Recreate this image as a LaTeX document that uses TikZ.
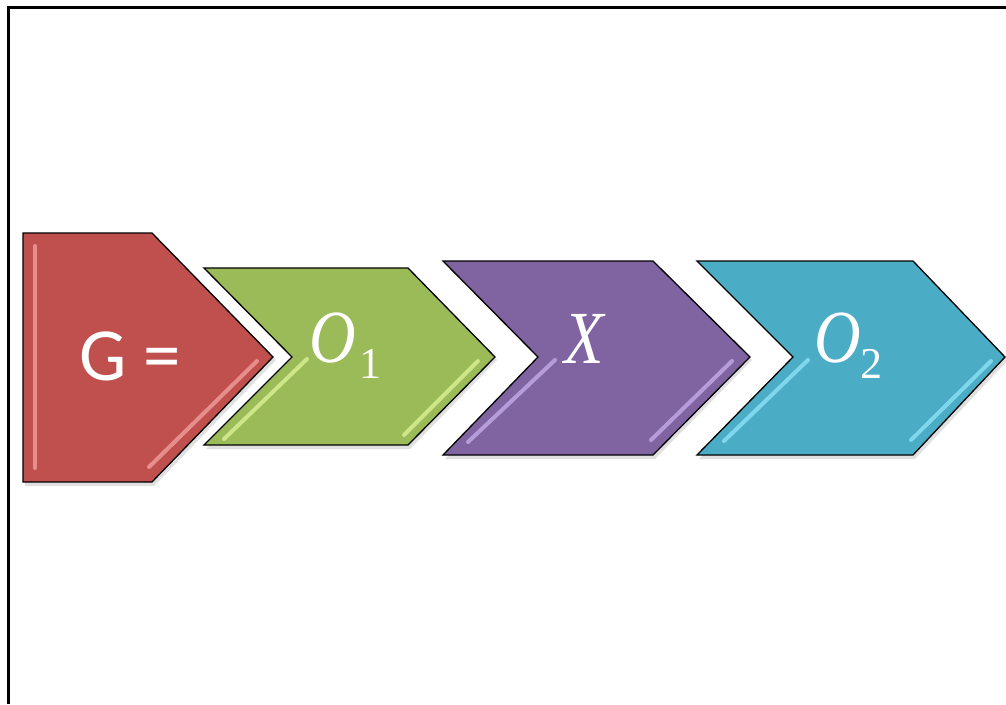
\documentclass[tikz,border=0pt]{standalone}
\usepackage{fontspec}
\newfontfamily\calib{Carlito}
\newfontfamily\tms{Liberation Serif}
\begin{document}
\begin{tikzpicture}[x=1pt,y=-1pt,
  shp/.style={draw=black,line width=1.3pt,line join=miter},
  shd/.style={fill=black,opacity=0.12},
  hl/.style={line width=4pt,line cap=round,opacity=0.75},
  txt/.style={inner sep=0pt,anchor=base west,text=white}]
\definecolor{cred}{HTML}{C0504D}
\definecolor{cgreen}{HTML}{9BBB59}
\definecolor{cpurple}{HTML}{8064A2}
\definecolor{ccyan}{HTML}{4BACC6}
\definecolor{hred}{HTML}{F4A3A0}
\definecolor{hgreen}{HTML}{DDF59A}
\definecolor{hpurple}{HTML}{C9B0EE}
\definecolor{hcyan}{HTML}{93E6F8}
\useasboundingbox (0,0) rectangle (1006,704);
\fill[white] (0,0) rectangle (1006,704);
% frame
\draw[line width=2.4pt] (8.5,704) -- (8.5,7.5) -- (1006,7.5);
% shadows
\fill[shd] (25,236) -- (154,236) -- (276,360) -- (154,486) -- (25,486) -- cycle;
\fill[shd] (206,271) -- (410,271) -- (497,360) -- (410,449) -- (206,449) -- (294,360) -- cycle;
\fill[shd] (445,264) -- (655,264) -- (752,360) -- (655,459) -- (445,459) -- (540,360) -- cycle;
\fill[shd] (699,264) -- (915,264) -- (1008,360) -- (915,459) -- (699,459) -- (795,360) -- cycle;
% shapes
\filldraw[shp,fill=cred] (23,233) -- (152,233) -- (273,357) -- (152,482) -- (23,482) -- cycle;
\filldraw[shp,fill=cgreen] (204,268) -- (408,268) -- (495,357) -- (408,445) -- (204,445) -- (292,357) -- cycle;
\filldraw[shp,fill=cpurple] (443,261) -- (653,261) -- (750,357) -- (653,455) -- (443,455) -- (538,357) -- cycle;
\filldraw[shp,fill=ccyan] (697,261) -- (913,261) -- (1005,357) -- (913,455) -- (697,455) -- (793,357) -- cycle;
% highlights
\draw[hl,hred] (35,246) -- (35,468);
\draw[hl,hred] (149,467) -- (257,361);
\draw[hl,hgreen] (224,439) -- (307,359);
\draw[hl,hgreen] (404,435) -- (478,361);
\draw[hl,hpurple] (468,442) -- (555,360);
\draw[hl,hpurple] (651,440) -- (732,361);
\draw[hl,hcyan] (724,441) -- (808,360);
\draw[hl,hcyan] (911,440) -- (991,361);
% texts
\node[txt] (g) at (79,380) {\calib\fontsize{75}{80}\selectfont G =};
\node[txt] (o1) at (309,362) {\scalebox{0.86}[1]{\tms\fontsize{75}{80}\selectfont\itshape O}};
\node[txt] (s1) at (359,378) {\tms\fontsize{44}{48}\selectfont 1};
\node[txt] (x) at (564,363) {\scalebox{0.86}[1]{\tms\fontsize{75}{80}\selectfont\itshape X}};
\node[txt] (o2) at (814,362) {\scalebox{0.86}[1]{\tms\fontsize{75}{80}\selectfont\itshape O}};
\node[txt] (s2) at (860,378) {\tms\fontsize{44}{48}\selectfont 2};
\end{tikzpicture}
\end{document}
